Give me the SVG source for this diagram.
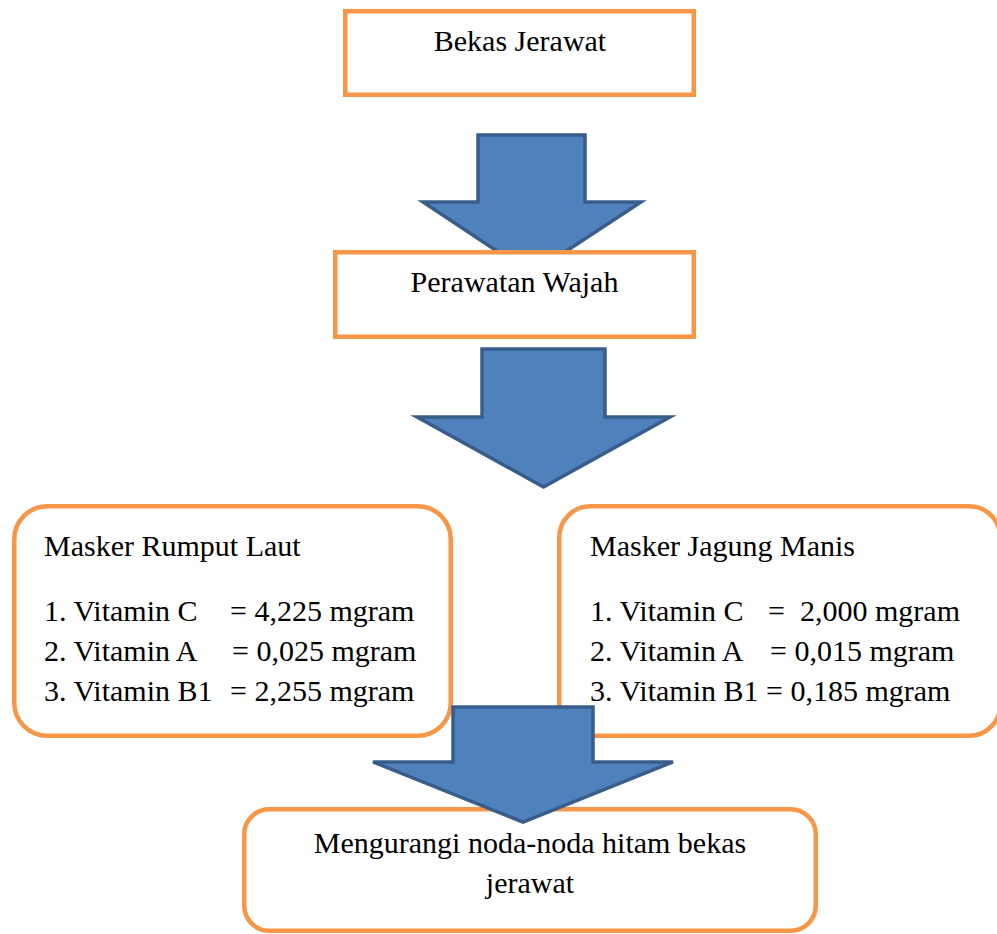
<svg xmlns="http://www.w3.org/2000/svg" width="997" height="934" viewBox="0 0 997 934">
<style>
.box{fill:#ffffff;stroke:#f79646;stroke-width:4.5}
.arrow{fill:#4f81bd;stroke:#385d8a;stroke-width:3.5;stroke-linejoin:miter}
text{font-family:"Liberation Serif","Times New Roman",serif;font-size:30px;fill:#000000}
.c{text-anchor:middle}
</style>
<rect width="997" height="934" fill="#ffffff"/>
<g id="node-bekas">
<rect class="box" x="345.25" y="11.25" width="348.5" height="83.5"/>
<text class="c" x="520" y="51">Bekas Jerawat</text>
</g>
<g id="connectors-1">
<path id="arrow1" class="arrow" d="M478,135 L585,135 L585,202 L641,202 L531.5,274 L423,202 L478,202 Z"/>
</g>
<g id="node-perawatan">
<rect class="box" x="335.25" y="252.25" width="358.5" height="84.5"/>
<text class="c" x="514.5" y="292">Perawatan Wajah</text>
</g>
<g id="connectors-2">
<path id="arrow2" class="arrow" d="M482,349 L605,349 L605,417 L670,417 L543.5,487 L417,417 L482,417 Z"/>
</g>
<g id="node-rumput">
<rect class="box" x="14.25" y="506.25" width="436.5" height="229.5" rx="33" ry="33"/>
<text x="44" y="556">Masker Rumput Laut</text>
<text x="44" y="621">1. Vitamin C</text>
<text x="230" y="621">= 4,225 mgram</text>
<text x="44" y="661">2. Vitamin A</text>
<text x="232" y="661">= 0,025 mgram</text>
<text x="44" y="701">3. Vitamin B1</text>
<text x="230" y="701">= 2,255 mgram</text>
</g>
<g id="node-jagung">
<rect class="box" x="559.25" y="506.25" width="441" height="229.5" rx="31" ry="31"/>
<text x="590" y="556">Masker Jagung Manis</text>
<text x="590" y="621">1. Vitamin C</text>
<text x="768" y="621">=</text>
<text x="800" y="621">2,000 mgram</text>
<text x="590" y="661">2. Vitamin A</text>
<text x="770" y="661">= 0,015 mgram</text>
<text x="590" y="701">3. Vitamin B1 = 0,185 mgram</text>
</g>
<g id="node-hasil">
<rect class="box" x="244.25" y="809.25" width="571.5" height="121.5" rx="25" ry="25"/>
<text class="c" x="530" y="853">Mengurangi noda-noda hitam bekas</text>
<text class="c" x="530" y="893">jerawat</text>
</g>
<g id="connectors-3">
<path id="arrow3" class="arrow" d="M453,707 L593,707 L593,762 L673,762 L523,822 L373,762 L453,762 Z"/>
</g>
</svg>
